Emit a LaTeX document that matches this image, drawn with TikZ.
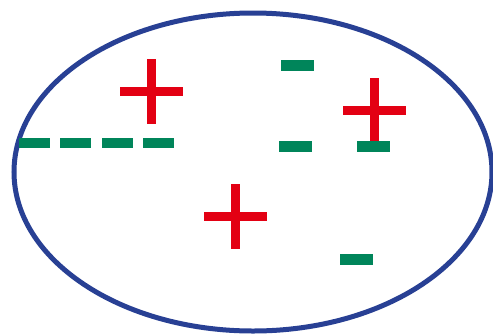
\documentclass[tikz,border=0pt]{standalone}
\definecolor{rimblue}{RGB}{40,64,148}
\definecolor{plusred}{RGB}{227,0,19}
\definecolor{minusgreen}{RGB}{0,133,90}
\tikzset{
    rim/.style={draw=rimblue, line width=5pt},
    poscharge/.style={fill=plusred},
    negcharge/.style={fill=minusgreen},
}
% plus and minus signs, centred at (#1,#2)
\newcommand{\plussign}[2]{
    \fill[poscharge] (#1-31.5,#2-4.5) rectangle (#1+31.5,#2+4.5);
    \fill[poscharge] (#1-4.5,#2-32.5) rectangle (#1+4.5,#2+32.5);
}
\newcommand{\minussign}[2]{
    \fill[negcharge] (#1-16.5,#2-5.5) rectangle (#1+16.5,#2+5.5);
}

\begin{document}
\begin{tikzpicture}[x=1pt, y=-1pt]
    \useasboundingbox (0,0) rectangle (493,333);
    \fill[white] (0,0) rectangle (493,333);

    \draw[rim] (253,172) ellipse [x radius=239, y radius=159];

    \plussign{151.5}{91.5}
    \plussign{374.5}{110.5}
    \plussign{235}{216.5}

    \minussign{297.5}{65.5}
    \minussign{295.5}{146.5}
    \minussign{373.5}{146.5}
    \minussign{356.5}{259.5}

    % dashed row on the left
    \foreach \dx in {0,41.3,82.6,124}
        \fill[negcharge] (19+\dx,138) rectangle (50+\dx,148);
\end{tikzpicture}
\end{document}
